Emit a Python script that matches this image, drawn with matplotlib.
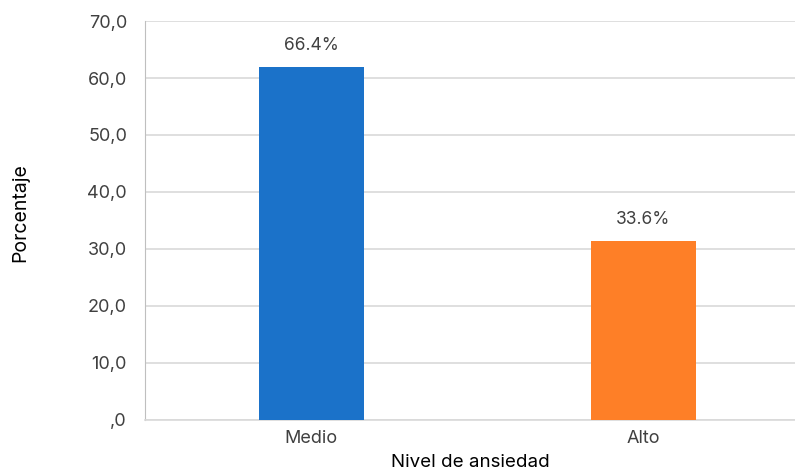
import matplotlib
matplotlib.use("Agg")
import matplotlib.pyplot as plt
from matplotlib.ticker import FuncFormatter

categories = ["Medio", "Alto"]
bar_heights = [61.9, 31.4]
bar_labels = ["66.4%", "33.6%"]
bar_colors = ["#1b72c9", "#fe7f27"]
y_ticks = [0, 10, 20, 30, 40, 50, 60, 70]

plt.rcParams['font.family'] = ['Inter', 'DejaVu Sans']
text_color = "#404040"

fig = plt.figure(figsize=(7.95, 4.72), dpi=100)
ax = fig.add_axes([0.1824, 0.1102, 0.8176, 0.8453])

x = list(range(len(categories)))
bars = ax.bar(x, bar_heights, width=0.316, color=bar_colors, zorder=3)

for rect, label in zip(bars, bar_labels):
    ax.annotate(label, (rect.get_x() + rect.get_width() / 2, rect.get_height()),
                xytext=(0, 22), textcoords="offset pixels",
                ha="center", va="center", fontsize=12.5, color=text_color)

ax.set_xlim(-0.5, 1.456)
ax.set_ylim(0, 70)
ax.set_yticks(y_ticks)


def fmt(v, pos):
    s = f"{v:.1f}".replace(".", ",")
    return s[1:] if s.startswith("0") else s


ax.yaxis.set_major_formatter(FuncFormatter(fmt))
ax.set_xticks(x)
ax.set_xticklabels(categories)
ax.tick_params(axis="both", length=0, labelsize=13, colors=text_color)
ax.tick_params(axis="y", pad=13)
ax.tick_params(axis="x", pad=7)

ax.grid(axis="y", color="#d9d9d9", linewidth=1.2, zorder=0)
for side in ["top", "right"]:
    ax.spines[side].set_visible(False)
ax.spines["left"].set_color("#bfbfbf")
ax.spines["bottom"].set_color("#d9d9d9")
ax.spines["bottom"].set_linewidth(1.2)

ax.set_xlabel("Nivel de ansiedad", fontsize=13.5, color="black", labelpad=5)
fig.text(0.026, 0.549, "Porcentaje", rotation=90, ha="center", va="center",
         fontsize=14, color="black")

fig.savefig("out.png", dpi=100)
